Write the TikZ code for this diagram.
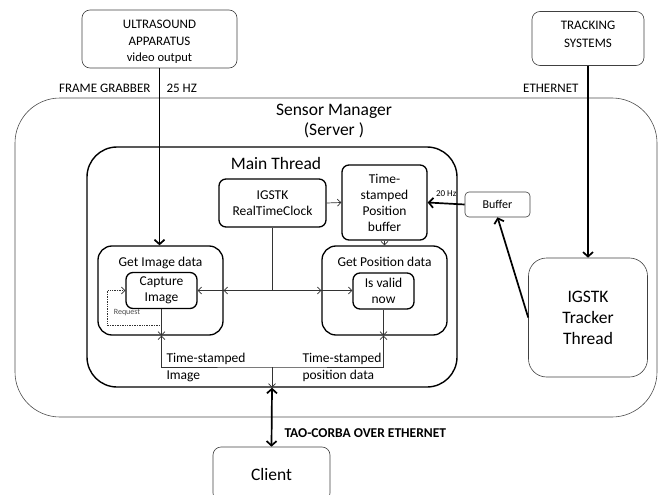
\documentclass[tikz,border=0pt]{standalone}
\usepackage{fontspec}
\setmainfont{Carlito}
\usepackage{tikz}
\usetikzlibrary{positioning, arrows.meta}

\begin{document}
\begin{tikzpicture}[x=1pt,y=-1pt,
	>={Straight Barb[length=3.5pt,width=7pt]},
	thinbox/.style={draw=black!75, line width=0.6pt, rounded corners=8pt, align=center, inner sep=0pt},
	thickbox/.style={draw, line width=1.3pt, rounded corners=7pt, align=center, inner sep=0pt},
	bigline/.style={line width=1.7pt, >={Straight Barb[length=4.5pt,width=10pt]}},
	smallline/.style={draw=black!80, line width=0.7pt}]
			\useasboundingbox (0,0) rectangle (659,495);

			% outside world
			\node[thinbox, minimum width=155pt, minimum height=58pt,
				label={[yshift=-3pt, align=center, font=\fontsize{13}{16.5}\selectfont]center:ULTRASOUND\\APPARATUS\\{\fontsize{12.5}{14}\selectfont video output}}]  (us)  at (159.5,39) {};
			\node[thinbox, minimum width=112pt, minimum height=54pt,
				label={[yshift=4pt, align=center, font=\fontsize{13}{18}\selectfont]center:TRACKING\\SYSTEMS}]  (track)  at (588,38.5) {};
			\node[thinbox, minimum width=117pt, minimum height=54pt, font=\fontsize{17.5}{20}\selectfont]  (client)  at (271.5,474) {Client};

			% sensor manager
			\node[draw=black!70, line width=0.6pt, rounded corners=45pt, minimum width=642pt, minimum height=319pt]  (sm)  at (336,257.5) {};
			\node[align=center, font=\fontsize{17.5}{20}\selectfont]  (smlabel)  at (334,121) {Sensor Manager\\(Server )};
			\node[draw, line width=1.4pt, rounded corners=30pt, minimum width=370pt, minimum height=240pt]  (main)  at (272,267) {};
			\node[font=\fontsize{17.5}{20}\selectfont]  (mainlabel)  at (276,163) {Main Thread};

			\node[thickbox, minimum width=107pt, minimum height=48pt, font=\fontsize{13.5}{16}\selectfont]  (clk)  at (272.5,203) {IGSTK\\RealTimeClock};
			\node[thickbox, minimum width=85pt, minimum height=75pt, font=\fontsize{13.5}{16}\selectfont]  (posbuf)  at (384.5,202.5) {Time-\\stamped\\Position\\buffer};
			\node[thickbox, minimum width=125pt, minimum height=89pt, rounded corners=14pt]  (getimg)  at (160.5,290.5) {};
			\node[font=\fontsize{13.5}{16}\selectfont, below=8pt of getimg.north]  (getimglabel)  {Get Image data};
			\node[thickbox, minimum width=71pt, minimum height=36pt, font=\fontsize{13.5}{16}\selectfont]  (capture)  at (161.5,290.5) {Capture\\Image};
			\node[thickbox, minimum width=125pt, minimum height=89pt, rounded corners=14pt]  (getpos)  at (384.5,290.5) {};
			\node[font=\fontsize{13.5}{16}\selectfont, below=8pt of getpos.north]  (getposlabel)  {Get Position data};
			\node[thickbox, minimum width=61pt, minimum height=36pt, font=\fontsize{13.5}{16}\selectfont]  (isvalid)  at (383.5,291) {Is valid\\now};

			\node[thinbox, minimum width=65pt, minimum height=25pt, rounded corners=4pt, font=\fontsize{12}{14}\selectfont]  (buf)  at (497.5,204.5) {Buffer};
			\node[thinbox, minimum width=119pt, minimum height=119pt, rounded corners=18pt, font=\fontsize{17.5}{21}\selectfont]  (tracker)  at (588,317.5) {IGSTK\\Tracker\\Thread};

			% inputs
			\draw[bigline, ->] (us.south) -- (us.south |- getimg.north);
			\draw[bigline, ->] (track.south) -- (tracker.north);
			\draw[bigline, ->] (tracker.west) -- (buf.south);
			\draw[bigline, ->] (buf.west) -- node[above=3pt, font=\fontsize{9}{10}\selectfont] {20 Hz} (posbuf.east);
			\node[font=\fontsize{13}{14}\selectfont, anchor=east]  (fg)  at (154,88) {FRAME GRABBER};
			\node[font=\fontsize{13}{14}\selectfont, anchor=west]  (hz)  at (163,88) {25 HZ};
			\node[font=\fontsize{13}{14}\selectfont, anchor=east]  (eth)  at (582,88) {ETHERNET};

			% main thread wiring
			\draw[smallline, ->] (clk.east) -- (posbuf.west);
			\draw[smallline, ->] (posbuf.south) -- (getpos.north);
			\coordinate (jn) at (clk.south |- capture.east);
			\draw[smallline] (clk.south) -- (jn);
			\draw[smallline, ->] (jn) -- (getimg.east |- jn);
			\draw[smallline, ->] (getimg.east |- jn) -- (capture.east);
			\draw[smallline, ->] (jn) -- (getpos.west |- jn);
			\draw[smallline, ->] (getpos.west |- jn) -- (isvalid.west |- jn);
			\draw[smallline, ->] (capture.south) -- (capture.south |- getimg.south);
			\draw[smallline, ->] (isvalid.south) -- (isvalid.south |- getpos.south);

			% request loop
			\coordinate (req) at ([yshift=-16.5pt]capture.south);
			\draw[smallline, densely dotted, ->] (req) -- ++(-54,0) |- (capture.west);
			\node[font=\fontsize{8}{9}\selectfont, text=black!70]  (reqlabel)  at (127,313) {Request};

			% time-stamped output
			\coordinate (ts) at (272,367);
			\draw[smallline, <->] (capture.south |- getimg.south) |- (ts) -| (isvalid.south |- getpos.south);
			\draw[smallline, ->] (ts) -- (ts |- main.south);
			\node[font=\fontsize{13.5}{17}\selectfont, align=left, anchor=west]  (tsimg)  at (163,367) {Time-stamped\\Image};
			\node[font=\fontsize{13.5}{17}\selectfont, align=left, anchor=west]  (tspos)  at (299,367) {Time-stamped\\position data};

			% client link
			\draw[bigline, <->] (main.south) -- (client.north);
			\node[font=\bfseries\fontsize{13.5}{15}\selectfont, anchor=west]  (corba)  at (281,433) {TAO-CORBA OVER ETHERNET};
		\end{tikzpicture}
\end{document}
